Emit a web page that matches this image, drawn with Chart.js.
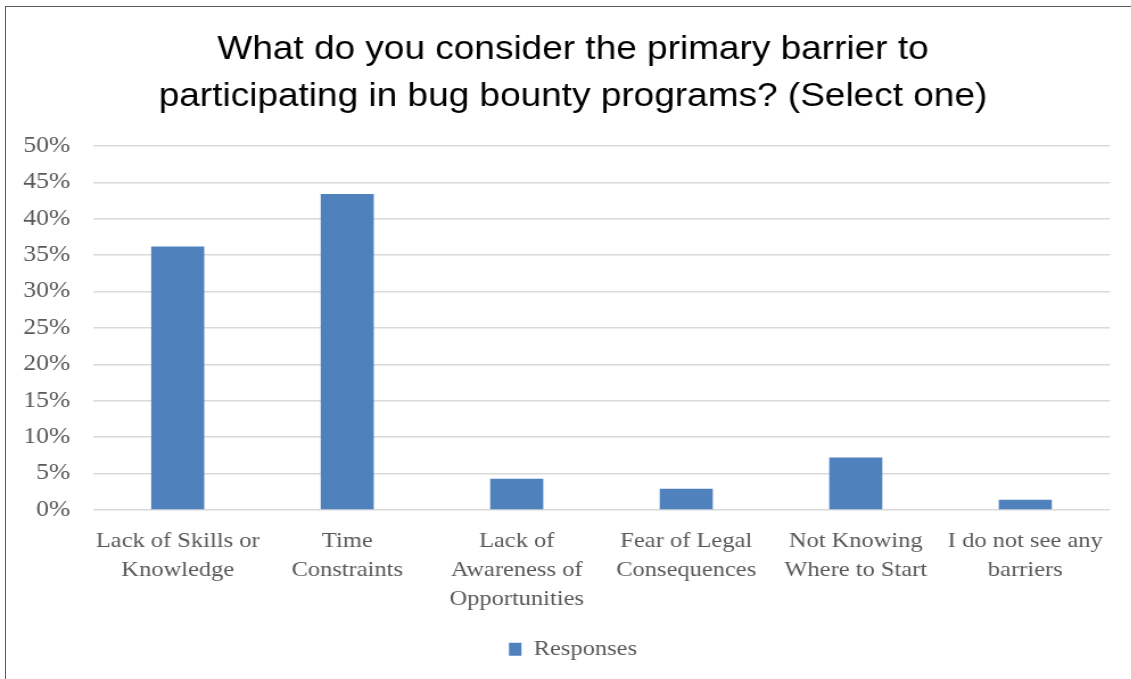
<!DOCTYPE html>
<html>
<head>
<meta charset="utf-8">
<script src="https://cdn.jsdelivr.net/npm/chart.js@4"></script>
<style>
  html, body { margin: 0; padding: 0; background: #fff; overflow: hidden; }
  /* the chart is laid out a bit narrower and widened to the full page */
  #wrap {
    position: absolute; left: 0; top: 0; width: 994px; height: 679px;
    transform: scaleX(1.138); transform-origin: 0 0;
  }
  #frame {
    position: absolute; left: 5px; top: 6px; width: 1200px; height: 760px;
    border-left: 1.5px solid #5a5a5a; border-top: 1.5px solid #5a5a5a;
    pointer-events: none;
  }
</style>
</head>
<body>
<div id="wrap">
  <canvas id="barrierChart"></canvas>
</div>
<div id="frame"></div>
<script>
// survey answers (share of respondents, %)
const categories = [
    ['Lack of Skills or', 'Knowledge'],
    ['Time', 'Constraints'],
    ['Lack of', 'Awareness of', 'Opportunities'],
    ['Fear of Legal', 'Consequences'],
    ['Not Knowing', 'Where to Start'],
    ['I do not see any', 'barriers']
];
const responses = [36.2, 43.4, 4.3, 2.9, 7.2, 1.4];
const seriesName = 'Responses';
const chartTitle = ['What do you consider the primary barrier to', 'participating in bug bounty programs? (Select one)'];

const serif = "'Liberation Serif', 'Times New Roman', serif";
const textGrey = '#595959';

// nudge title and legend a little to the right of the canvas centre
const centreShift = {
    id: 'centreShift',
    afterLayout(chart) {
        const dx = 15.8;
        [chart.titleBlock, chart.legend].forEach((box) => {
            if (box) { box.left += dx; box.right += dx; }
        });
    }
};

const ctx = document.getElementById('barrierChart').getContext('2d');

new Chart(ctx, {
    type: 'bar',
    data: {
        labels: categories,
        datasets: [{
            label: seriesName,
            data: responses,
            backgroundColor: '#4f81bd',
            borderWidth: 0,
            barPercentage: 0.313,
            categoryPercentage: 1
        }]
    },
    options: {
        responsive: true,
        maintainAspectRatio: false,
        animation: false,
        layout: {
            padding: { left: 0, right: 18.6, top: 0, bottom: 9 }
        },
        plugins: {
            title: {
                display: true,
                text: chartTitle,
                color: '#000',
                font: { family: "'Liberation Sans', Arial, sans-serif", size: 32.5, weight: 'normal', lineHeight: 1.44 },
                padding: { top: 27, bottom: 25.4 }
            },
            legend: {
                display: true,
                position: 'bottom',
                labels: {
                    color: textGrey,
                    font: { family: serif, size: 21.5 },
                    boxWidth: 11,
                    boxHeight: 13,
                    padding: 12
                }
            },
            tooltip: { enabled: false }
        },
        scales: {
            x: {
                // a little extra room between the category labels and the legend
                afterFit: (scale) => { scale.height += 3.5; },
                grid: { display: false },
                border: { display: false },
                ticks: {
                    color: textGrey,
                    font: { family: serif, size: 21.5, lineHeight: 1.35 },
                    maxRotation: 0,
                    autoSkip: false,
                    padding: 9
                }
            },
            y: {
                min: 0,
                max: 50,
                afterFit: (scale) => { scale.width = 81.7; },
                grid: { color: '#d9d9d9', lineWidth: 1.5, drawTicks: false },
                border: { display: false },
                ticks: {
                    stepSize: 5,
                    color: textGrey,
                    font: { family: serif, size: 22.5 },
                    padding: 20,
                    callback: (v) => v + '%'
                }
            }
        }
    },
    plugins: [centreShift]
});
</script>
</body>
</html>
